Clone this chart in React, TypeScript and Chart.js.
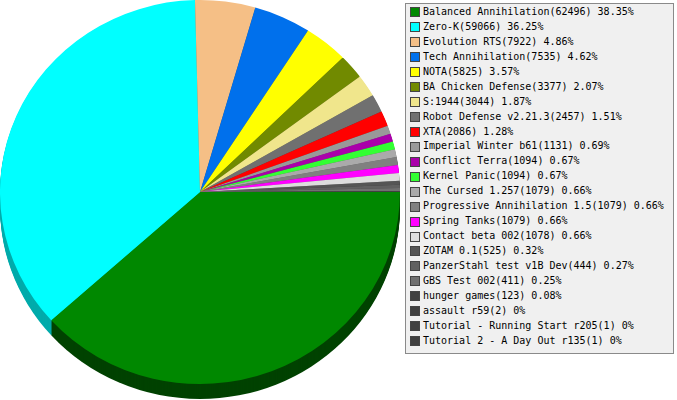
import React, { useEffect, useRef } from 'react';
import { Chart, registerables } from 'chart.js';

Chart.register(...registerables);

const categories: string[] = [
  'Balanced Annihilation',
  'Zero-K',
  'Evolution RTS',
  'Tech Annihilation',
  'NOTA',
  'BA Chicken Defense',
  'S:1944',
  'Robot Defense v2.21.3',
  'XTA',
  'Imperial Winter b61',
  'Conflict Terra',
  'Kernel Panic',
  'The Cursed 1.257',
  'Progressive Annihilation 1.5',
  'Spring Tanks',
  'Contact beta 002',
  'ZOTAM 0.1',
  'PanzerStahl test v1B Dev',
  'GBS Test 002',
  'hunger games',
  'assault r59',
  'Tutorial - Running Start r205',
  'Tutorial 2 - A Day Out r135',
];

const plays: number[] = [
  62496, 59066, 7922, 7535, 5825, 3377, 3044, 2457, 2086, 1131, 1094, 1094,
  1079, 1079, 1079, 1078, 525, 444, 411, 123, 2, 1, 1,
];

const sliceColors: string[] = [
  '#008800', '#00ffff', '#f5bf86', '#0070ec', '#ffff00', '#718a00',
  '#f0e68c', '#707070', '#ff0000', '#999999', '#aa00aa', '#33ff33',
  '#aaaaaa', '#808080', '#ff00ff', '#dddddd', '#555555', '#606060',
  '#707070', '#404040', '#404040', '#404040', '#404040',
];

const total = plays.reduce((a, b) => a + b, 0);
const pctText = (v: number) => `${Number(((v / total) * 100).toFixed(2))}%`;
const legendTexts = categories.map((c, i) => `${c}(${plays[i]}) ${pctText(plays[i])}`);

const SQUASH = 0.96;
const DEPTH = 15;

function darken(hex: string, f: number): string {
  const n = parseInt(hex.slice(1), 16);
  const r = Math.round(((n >> 16) & 255) * f);
  const g = Math.round(((n >> 8) & 255) * f);
  const b = Math.round((n & 255) * f);
  return `rgb(${r},${g},${b})`;
}

const sideOverrides: Record<number, string> = { 0: '#004200', 1: '#00abab' };

function tilt(ctx: CanvasRenderingContext2D, x: number, y: number, r: number) {
  ctx.translate(x, r * SQUASH);
  ctx.scale(1, SQUASH);
  ctx.translate(-x, -y);
}

const pie3d = {
  id: 'pie3d',
  beforeDatasetsDraw(chart: any) {
    const ctx: CanvasRenderingContext2D = chart.ctx;
    const meta = chart.getDatasetMeta(0);
    const arcs = meta.data as any[];
    if (!arcs.length) return;
    const { x, y, outerRadius } = arcs[0];
    for (let k = DEPTH; k >= 1; k--) {
      ctx.save();
      ctx.translate(0, k);
      tilt(ctx, x, y, outerRadius);
      arcs.forEach((a, i) => {
        ctx.beginPath();
        ctx.moveTo(a.x, a.y);
        ctx.arc(a.x, a.y, a.outerRadius, a.startAngle, a.endAngle);
        ctx.closePath();
        ctx.fillStyle = sideOverrides[i] || darken(sliceColors[i], 0.6);
        ctx.fill();
      });
      ctx.restore();
    }
    ctx.save();
    tilt(ctx, x, y, outerRadius);
  },
  afterDatasetsDraw(chart: any) {
    const meta = chart.getDatasetMeta(0);
    if (!meta.data.length) return;
    chart.ctx.restore();
  },
};

export default function App() {
  const canvasRef = useRef<HTMLCanvasElement | null>(null);

  useEffect(() => {
    if (!canvasRef.current) return;
    const chart = new Chart(canvasRef.current, {
      type: 'pie',
      data: {
        labels: categories,
        datasets: [
          {
            data: plays,
            backgroundColor: sliceColors,
            borderWidth: 0,
          },
        ],
      },
      options: {
        responsive: false,
        maintainAspectRatio: false,
        animation: false,
        rotation: 90,
        layout: { padding: 0 },
        plugins: {
          legend: { display: false },
          tooltip: { enabled: false },
        },
      },
      plugins: [pie3d],
    });
    return () => chart.destroy();
  }, []);

  return (
    <div style={{ position: 'fixed', left: 0, top: 0, width: 677, height: 400, background: '#fff' }}>
      <canvas ref={canvasRef} width={400} height={400} style={{ position: 'absolute', left: 0, top: 0 }} />
      <div
        style={{
          position: 'absolute',
          left: 405,
          top: 3,
          width: 267,
          height: 348,
          background: '#f0f0f0',
          border: '1px solid #8a8a8a',
          boxSizing: 'content-box',
          paddingTop: 1,
          fontFamily: '"DejaVu Sans Mono", monospace',
          fontSize: 10,
          color: '#000',
        }}
      >
        {legendTexts.map((t, i) => (
          <div
            key={i}
            style={{ height: 14.95, lineHeight: '14.95px', display: 'flex', alignItems: 'center', whiteSpace: 'nowrap' }}
          >
            <span
              style={{
                display: 'inline-block',
                width: 8,
                height: 8,
                marginLeft: 4,
                marginRight: 3,
                background: sliceColors[i],
                border: '1px solid #444',
              }}
            />
            <span>{t}</span>
          </div>
        ))}
      </div>
    </div>
  );
}
